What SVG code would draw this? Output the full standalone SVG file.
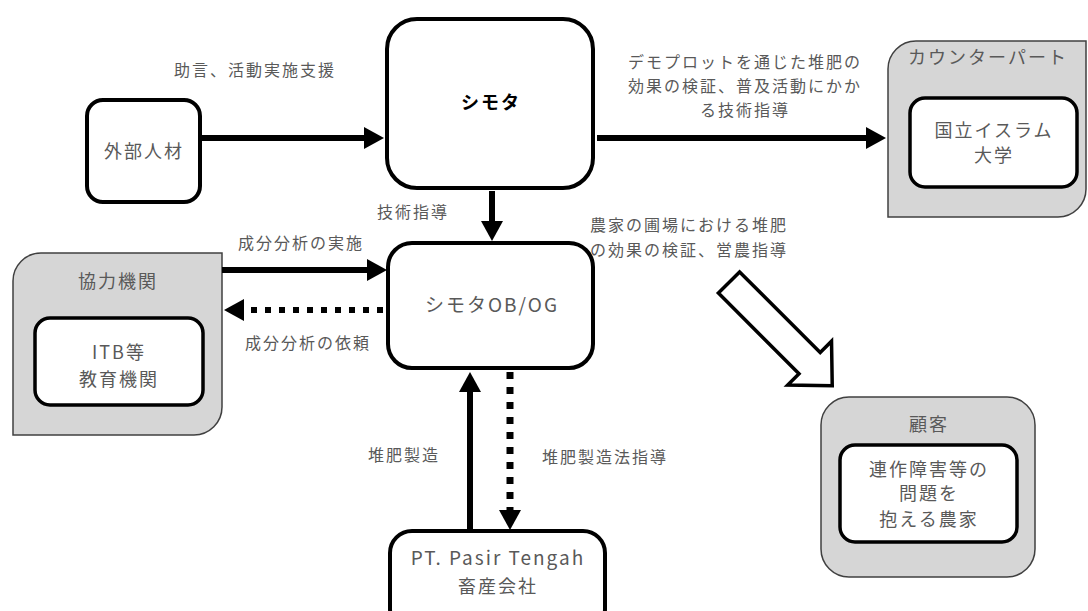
<svg xmlns="http://www.w3.org/2000/svg" width="1088" height="611" viewBox="0 0 1088 611">
<style>
.t{font-family:"Noto Sans CJK JP","Noto Sans",sans-serif;fill:#595959;text-anchor:middle}
.n{font-size:18px;letter-spacing:2px}
.l{font-size:16px;letter-spacing:2px}
.b{font-size:18px;font-weight:bold;fill:#000;letter-spacing:2px}
.box{fill:#fff;stroke:#000;stroke-width:4}
.inner{fill:#fff;stroke:#000;stroke-width:3.5}
.grp{fill:#d6d6d6;stroke:#404040;stroke-width:1.5}
.ln{stroke:#000;fill:none}
</style>
<defs>
<marker id="ah" markerUnits="userSpaceOnUse" markerWidth="20" markerHeight="22" refX="0" refY="11" orient="auto">
<path d="M0,0 L20,11 L0,22 Z" fill="#000"/>
</marker>
</defs>
<rect width="1088" height="611" fill="#fff"/>

<g id="kyoryoku">
<path class="grp" d="M13,281 A28,28 0 0 1 41,253 L222,253 L222,407 A28,28 0 0 1 194,435 L13,435 Z"/>
<text class="t n" x="118" y="288">協力機関</text>
<rect class="inner" x="35" y="318" width="168" height="87" rx="15"/>
<text class="t n" x="119" y="359">ITB等</text>
<text class="t n" x="119" y="386">教育機関</text>
</g>

<g id="counterpart">
<path class="grp" d="M888,69 A28,28 0 0 1 916,41 L1086,41 L1086,189 A28,28 0 0 1 1058,217 L888,217 Z"/>
<text class="t n" x="988" y="64">カウンターパート</text>
<rect class="inner" x="910" y="98" width="167" height="89" rx="15"/>
<text class="t n" x="994" y="137">国立イスラム</text>
<text class="t n" x="994" y="162">大学</text>
</g>

<g id="kokyaku">
<rect class="grp" x="821" y="397" width="214" height="180" rx="28"/>
<text class="t n" x="929" y="431">顧客</text>
<rect class="inner" x="840" y="445" width="177" height="97" rx="15"/>
<text class="t n" x="929" y="476">連作障害等の</text>
<text class="t n" x="929" y="500">問題を</text>
<text class="t n" x="929" y="526">抱える農家</text>
</g>

<g id="gaibu">
<rect class="box" x="87" y="100" width="113" height="102" rx="16" stroke-width="3.5"/>
<text class="t n" x="144" y="158">外部人材</text>
</g>

<g id="shimota">
<rect class="box" x="387" y="19" width="206" height="169" rx="30" stroke-width="8"/>
<text class="t b" x="491" y="109">シモタ</text>
</g>

<g id="obog">
<rect class="box" x="388" y="243" width="205" height="125" rx="24" stroke-width="5.5"/>
<text class="t n" x="492" y="312" style="font-size:19px">シモタOB/OG</text>
</g>

<g id="pt">
<rect class="box" x="390" y="531" width="215" height="100" rx="22" stroke-width="5.5"/>
<text class="t n" x="498" y="565" style="font-size:19px">PT. Pasir Tengah</text>
<text class="t n" x="498" y="593">畜産会社</text>
</g>

<g id="connectors">
<line class="ln" x1="200" y1="138" x2="364" y2="138" stroke-width="6" marker-end="url(#ah)"/>
<line class="ln" x1="597" y1="138" x2="866" y2="138" stroke-width="6" marker-end="url(#ah)"/>
<line class="ln" x1="492" y1="191" x2="492" y2="221" stroke-width="6" marker-end="url(#ah)"/>
<line class="ln" x1="222" y1="270" x2="367" y2="270" stroke-width="6" marker-end="url(#ah)"/>
<line class="ln" x1="383" y1="310" x2="244" y2="310" stroke-width="6" stroke-dasharray="6 8" marker-end="url(#ah)"/>
<line class="ln" x1="470" y1="531" x2="470" y2="392" stroke-width="6" marker-end="url(#ah)"/>
<line class="ln" x1="510" y1="372" x2="510" y2="510" stroke-width="7" stroke-dasharray="7 8" marker-end="url(#ah)"/>
<polygon transform="translate(729,282.5) rotate(45)" points="0,-15 114,-15 114,-31 146,0 114,31 114,15 0,15" fill="#fff" stroke="#000" stroke-width="3.5" stroke-linejoin="miter"/>
</g>

<g id="labels">
<text class="t l" x="255" y="76">助言、活動実施支援</text>
<text class="t l" x="745" y="68">デモプロットを通じた堆肥の</text>
<text class="t l" x="745" y="92">効果の検証、普及活動にかか</text>
<text class="t l" x="745" y="116">る技術指導</text>
<text class="t l" x="413" y="218">技術指導</text>
<text class="t l" x="590" y="231" style="text-anchor:start">農家の圃場における堆肥</text>
<text class="t l" x="590" y="256" style="text-anchor:start">の効果の検証、営農指導</text>
<text class="t l" x="301" y="249">成分分析の実施</text>
<text class="t l" x="308" y="349">成分分析の依頼</text>
<text class="t l" x="404" y="461">堆肥製造</text>
<text class="t l" x="605" y="463">堆肥製造法指導</text>
</g>
</svg>
